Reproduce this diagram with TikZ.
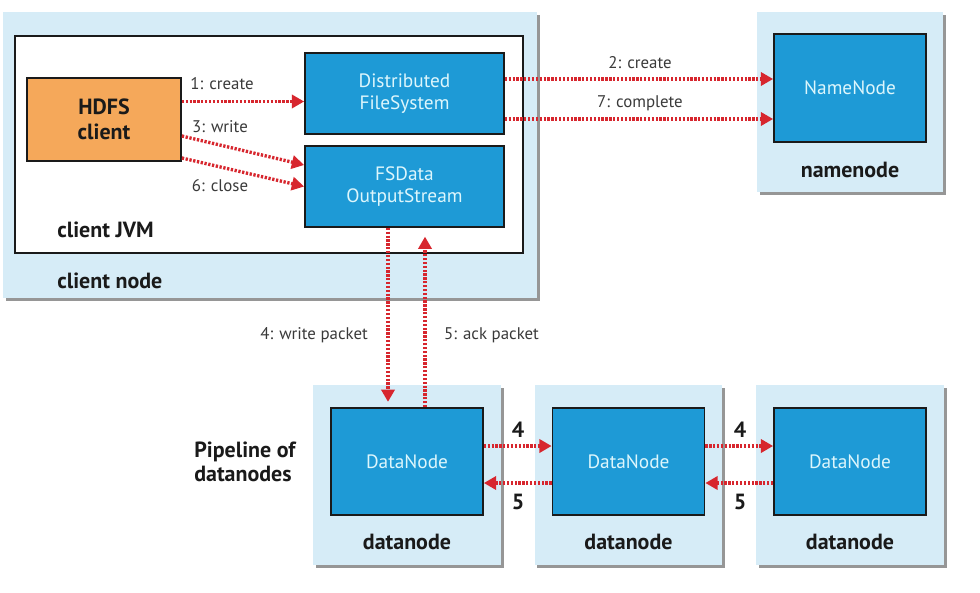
\documentclass[tikz,border=0pt]{standalone}
\usepackage{fontspec}
\setmainfont{PT Sans}
\usetikzlibrary{arrows.meta,shadows,calc}
\definecolor{hostblue}{HTML}{D6ECF7}
\definecolor{partblue}{HTML}{1E9AD6}
\definecolor{parttext}{HTML}{DDF6FC}
\definecolor{clientorange}{HTML}{F5A85A}
\definecolor{flowred}{HTML}{D7262E}
\definecolor{msggray}{HTML}{3A3A3A}
\definecolor{tagblack}{HTML}{1A1A1A}

\begin{document}
\begin{tikzpicture}[x=0.02cm,y=-0.02cm,
    host/.style={fill=hostblue,draw=none,inner sep=0pt,
        drop shadow={shadow xshift=1.6pt,shadow yshift=-1.6pt,fill=black!55,opacity=0.75}},
    jvm/.style={fill=white,draw=tagblack,line width=1pt,inner sep=0pt},
    part/.style={fill=partblue,draw=tagblack,line width=1pt,text=parttext,
        font=\fontsize{11}{12.5}\selectfont,align=center,inner sep=0pt},
    flow/.style={draw=flowred,line width=1.9pt,dash pattern=on 1.3pt off 0.9pt,
        -{Triangle[length=7pt,width=7.5pt]}},
    msg/.style={text=msggray,font=\fontsize{9.6}{11}\selectfont},
    tag/.style={text=tagblack,font=\fontsize{12.5}{14}\selectfont\bfseries}]
    \useasboundingbox (0,0) rectangle (980,592);

    % client side
    \node[host,minimum width=10.68cm,minimum height=5.72cm] at (270,155) (clientnode) {};
    \node[jvm,minimum width=10.16cm,minimum height=4.34cm] at (269,144.5) (clientjvm) {};
    \node[part,fill=clientorange,text=tagblack,font=\fontsize{12.5}{14}\selectfont\bfseries,
        minimum width=3.08cm,minimum height=1.66cm] at (104,119.5) (hdfs) {HDFS\\client};
    \node[part,minimum width=3.98cm,minimum height=1.62cm] at (404.5,93.5) (dfs) {Distributed\\FileSystem};
    \node[part,minimum width=3.98cm,minimum height=1.62cm] at (404.5,186.5) (fsdata) {FSData\\OutputStream};
    \node[tag,anchor=west,inner sep=0pt] at (57,230) (jvmlbl) {client JVM};
    \node[tag,anchor=west,inner sep=0pt] at (57,281) (clientlbl) {client node};

    % namenode
    \node[host,minimum width=3.72cm,minimum height=3.6cm] at (850,102) (nnhost) {};
    \node[part,minimum width=3.04cm,minimum height=2.16cm] at (850,88) (nn) {NameNode};
    \node[tag] at (850,170) (nnlbl) {namenode};

    % datanodes
    \foreach \x/\n in {407/1,628.5/2,850/3} {
        \node[host,minimum width=3.76cm,minimum height=3.6cm] at (\x,475) (dnhost\n) {};
        \node[part,minimum width=3.04cm,minimum height=2.14cm] at (\x,461.5) (dn\n) {DataNode};
        \node[tag] at (\x,542) (dnlbl\n) {datanode};
    }
    \node[tag,align=left,anchor=west,inner sep=0pt] at (194,462) (pipelbl) {Pipeline of\\datanodes};

    % calls inside the client
    \draw[flow] ($(hdfs.east)+(0,-18)$) coordinate (c1) -- (c1 -| dfs.west);
    \draw[flow] ($(hdfs.east)+(0,16.5)$) -- ($(fsdata.west)+(0,-21.5)$);
    \draw[flow] ($(hdfs.east)+(0,38.5)$) -- (fsdata.west);
    \node[msg] at (222,84) (m1) {1: create};
    \node[msg] at (220,127) (m3) {3: write};
    \node[msg] at (220,186) (m6) {6: close};

    % calls to the namenode
    \draw[flow] ($(dfs.east)+(0,-14.5)$) coordinate (c2) -- (c2 -| nn.west);
    \draw[flow] ($(dfs.east)+(0,25.5)$) coordinate (c7) -- (c7 -| nn.west);
    \node[msg] at (640,63) (m2) {2: create};
    \node[msg] at (640,103) (m7) {7: complete};

    % packets
    \draw[flow,shorten >=3pt] ($(fsdata.south)+(-16.5,0)$) coordinate (c4) -- (c4 |- dn1.north);
    \draw[flow,shorten >=5pt] ($(dn1.north)+(18,0)$) coordinate (c5) -- (c5 |- fsdata.south);
    \node[msg,anchor=east] at (374,335) (m4) {4: write packet};
    \node[msg,anchor=west] at (438,335) (m5) {5: ack packet};

    % pipeline
    \foreach \a/\b/\x in {1/2/518,2/3/740} {
        \draw[flow] ($(dn\a.east)+(0,-15.5)$) coordinate (p\a) -- (p\a -| dn\b.west);
        \draw[flow] ($(dn\b.west)+(0,21.5)$) coordinate (q\a) -- (q\a -| dn\a.east);
        \node[tag] at (\x,430) (fw\a) {4};
        \node[tag] at (\x,502) (bw\a) {5};
    }
\end{tikzpicture}
\end{document}
